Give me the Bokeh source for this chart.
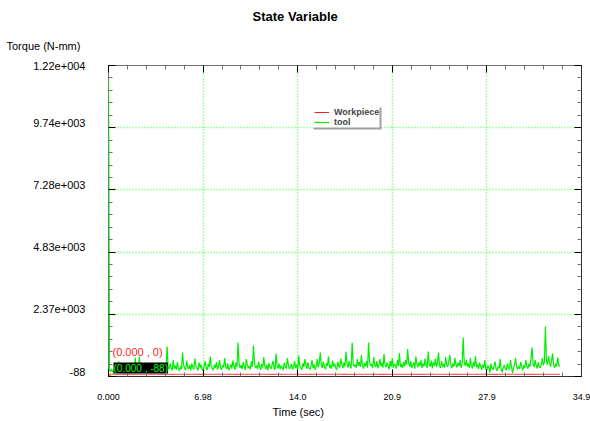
import numpy as np
from bokeh.plotting import figure
from bokeh.models import (Range1d, FixedTicker, LinearAxis, Label, Legend,
                          LegendItem, ColumnDataSource, Title)
from bokeh.embed import file_html
from bokeh.resources import INLINE

# ---------------- data ----------------
t_end = 33.3
tool = [
    11700, 160, 90, 210, 120, 70, 180, 240, 110, 150,
    500, 130, 80, 200, 260, 120, 90, 170, 230, 100,
    150, 280, 110, 190, 80, 140, 650, 210, 120, 170,
    700, 160, 90, 240, 130, 200, 100, 310, 150, 80,
    220, 140, 180, 90, 260, 120, 330, 170, 110, 230,
    150, 90, 280, 200, 130, 380, 240, 1100, 300, 190,
    420, 260, 150, 560, 220, 340, 180, 480, 250, 130,
    310, 200, 860, 370, 240, 160, 540, 290, 200, 360,
    150, 420, 280, 190, 620, 330, 240, 150, 470, 260,
    380, 200, 130, 300, 520, 240, 170, 410, 290, 700,
    330, 220, 160, 380, 250, 480, 190, 300, 560, 240,
    170, 350, 280, 640, 300, 200, 430, 160, 260, 390,
    220, 540, 310, 190, 460, 280, 1250, 420, 250, 360,
    200, 480, 310, 170, 600, 380, 240, 330, 180, 520,
    290, 1140, 450, 260, 340, 210, 500, 280, 170, 400,
    260, 680, 320, 200, 380, 150, 440, 290, 210, 360,
    530, 250, 170, 820, 310, 230, 420, 190, 340, 270,
    160, 460, 300, 220, 640, 350, 200, 290, 410, 180,
    300, 520, 240, 380, 190, 740, 330, 250, 170, 430,
    280, 600, 360, 210, 470, 260, 190, 330, 550, 240,
    390, 180, 310, 600, 270, 420, 860, 380, 250, 500,
    300, 200, 440, 330, 700, 260, 360, 220, 540, 310,
    420, 250, 180, 500, 330, 270, 620, 380, 240, 460,
    300, 900, 410, 260, 520, 340, 230, 1250, 450, 300,
    380, 250, 600, 330, 480, 290, 760, 360, 220, 440,
    310, 520, 260, 1250, 480, 330, 400, 240, 680, 350,
    290, 520, 230, 380, 600, 310, 450, 260, 800, 370,
    280, 460, 340, 190, 520, 300, 620, 260, 410, 350,
    230, 560, 330, 840, 290, 400, 250, 480, 310, 560,
    380, 1000, 430, 300, 520, 250, 360, 470, 220, 700,
    390, 280, 480, 330, 560, 250, 420, 310, 620, 350,
    260, 900, 400, 300, 540, 230, 470, 340, 620, 280,
    450, 860, 330, 250, 520, 300, 410, 260, 680, 370,
    290, 520, 760, 350, 240, 430, 300, 640, 380, 270,
    460, 320, 560, 250, 410, 1450, 480, 330, 560, 300,
    420, 250, 640, 350, 230, 480, 300, 720, 280, 390,
    200, 460, 310, 170, 380, 260, 560, 220, 150, 340,
    270, 60, 420, 230, 180, 320, 500, 210, 140, 300,
    240, 600, 190, 70, 280, 350, 220, 160, 420, 260,
    190, 560, 300, 50, 240, 380, 640, 270, 200, 330,
    210, 480, 290, 160, 360, 250, 560, 330, 220, 420,
    300, 640, 1060, 420, 280, 560, 360, 230, 470, 300,
    250, 400, 640, 350, 480, 1890, 520, 380, 720, 460,
    300, 560, 820, 350, 260, 420, 300, 660, 380, 300,
]
workpiece = [0] * len(tool)
time = np.linspace(0, t_end, len(tool))

x_ticks = [0, 6.98, 13.96, 20.94, 27.92, 34.9]
x_labels = ["0.000", "6.98", "14.0", "20.9", "27.9", "34.9"]
y_ticks = [-88, 2369.6, 4827.2, 7284.8, 9742.4, 12200]
y_labels = ["-88", "2.37e+003", "4.83e+003", "7.28e+003", "9.74e+003", "1.22e+004"]
series_names = ["Workpiece", "tool"]
cursor_red = "(0.000 , 0)"
cursor_box = "(0.000 , -88)"

# ---------------- layout ----------------
W, H = 590, 421
FL, FR, FT, FB = 108, 581, 65, 376
XMIN, XMAX = x_ticks[0], x_ticks[-1]
YMIN, YMAX = y_ticks[0], y_ticks[-1]
LABEL_LIFT_PX = 5


def dx(px):
    return (px - FL) / (FR - FL) * (XMAX - XMIN) + XMIN


def dy(py):
    return (FB - py) / (FB - FT) * (YMAX - YMIN) + YMIN


FONT = "Liberation Sans"
lift = LABEL_LIFT_PX / (FB - FT) * (YMAX - YMIN)

p = figure(width=W, height=H, output_backend="svg", toolbar_location=None,
           x_range=Range1d(XMIN, XMAX), y_range=Range1d(YMIN, YMAX),
           min_border_left=FL, min_border_right=W - FR,
           min_border_top=FT, min_border_bottom=H - FB,
           background_fill_color="white", border_fill_color="white")
p.outline_line_color = "#707070"
p.extra_y_ranges = {"lab": Range1d(YMIN - lift, YMAX - lift)}

p.title.text = "State Variable"
p.title.align = "left"
p.title.offset = 252 - FL
p.title.text_font = FONT
p.title.text_font_size = "13px"
p.title.text_font_style = "bold"
p.title.text_color = "#000000"
p.title.standoff = 2


def minors(ticks):
    out = []
    for a, b in zip(ticks[:-1], ticks[1:]):
        for k in range(1, 5):
            out.append(a + (b - a) * k / 5)
    return out


xt = FixedTicker(ticks=x_ticks, minor_ticks=minors(x_ticks))
yt = FixedTicker(ticks=y_ticks, minor_ticks=minors(y_ticks))


def style_axis(ax, ticker, labels, show, size, standoff):
    ax.ticker = ticker
    ax.axis_line_color = "#303030"
    ax.major_tick_line_color = "#000000"
    ax.minor_tick_line_color = "#707070"
    ax.major_tick_in = 7
    ax.major_tick_out = 0
    ax.minor_tick_in = 4
    ax.minor_tick_out = 0
    ax.major_label_text_font = FONT
    ax.major_label_text_color = "#000000"
    if show:
        ax.major_label_overrides = {v: s for v, s in zip(ticker.ticks, labels)}
        ax.major_label_text_font_size = size
        ax.major_label_standoff = standoff
    else:
        ax.major_label_overrides = {v: "" for v in ticker.ticks}
        ax.major_label_text_font_size = "1px"
        ax.major_label_standoff = 0


style_axis(p.xaxis[0], xt, x_labels, True, "9px", 17)
# left axis: ticks only (its line left off so the t=0 spike shows on the edge)
style_axis(p.yaxis[0], yt, y_labels, False, "1px", 0)
p.yaxis[0].axis_line_color = None

# left tick labels, lifted a few pixels above their ticks
lab_ticks = y_ticks[:-1] + [YMAX - lift]
ylab = LinearAxis(y_range_name="lab")
style_axis(ylab, FixedTicker(ticks=lab_ticks), y_labels, True, "11px", 23)
ylab.axis_line_color = None
ylab.major_tick_line_color = None
ylab.minor_tick_line_color = None
ylab.major_tick_in = 0
ylab.minor_tick_in = 0
p.add_layout(ylab, "left")

top = LinearAxis()
right = LinearAxis()
style_axis(top, xt, x_labels, False, "1px", 0)
style_axis(right, yt, y_labels, False, "1px", 0)
top.axis_line_color = "#707070"
p.add_layout(top, "above")
p.add_layout(right, "right")

p.add_layout(Title(text="Torque (N-mm)", align="left", offset=6 - FL,
                   text_font=FONT, text_font_size="11px", text_color="#000000",
                   text_font_style="normal", standoff=27), "above")
p.add_layout(Title(text="Time (sec)", align="left", offset=272 - FL,
                   text_font=FONT, text_font_size="11px", text_color="#000000",
                   text_font_style="normal", standoff=2), "below")

for g in (p.xgrid[0], p.ygrid[0]):
    g.grid_line_color = "#55ff55"
    g.grid_line_dash = "1 2"
    g.grid_line_width = 1.5
p.xgrid[0].ticker = xt
p.ygrid[0].ticker = yt

src = ColumnDataSource(dict(t=time, tool=tool, wp=workpiece))
r_tool = p.line("t", "tool", source=src, line_color="#00ee00", line_width=1.2)
r_wp = p.line("t", "wp", source=src, line_color="#ff2020", line_width=1)

# cursor point marker
p.scatter([XMIN], [YMIN], marker="square", size=4, color="#ff8000")

# legend shadow + box
p.quad(left=[dx(313)], right=[dx(381)], top=[dy(107)], bottom=[dy(129)],
       fill_color="#a0a0a0", line_color=None)
p.quad(left=[dx(311)], right=[dx(379)], top=[dy(105)], bottom=[dy(127)],
       fill_color="white", line_color=None)

legend = Legend(items=[LegendItem(label=series_names[0], renderers=[r_wp]),
                       LegendItem(label=series_names[1], renderers=[r_tool])],
                location=(314 - FL, FB - 127),
                background_fill_alpha=0, border_line_color=None,
                padding=4, margin=0, spacing=0,
                glyph_width=15, glyph_height=8, label_height=8,
                label_standoff=5, label_text_font=FONT,
                label_text_font_style="bold", label_text_font_size="9px",
                label_text_line_height=1.0)
p.add_layout(legend)

# cursor read-outs
p.add_layout(Label(x=dx(112), y=dy(351), text=cursor_red,
                   text_align="left", text_baseline="middle",
                   text_font=FONT, text_font_size="11px", text_color="#ff2020"))
p.add_layout(Label(x=dx(113), y=dy(367.5), text=cursor_box,
                   text_align="left", text_baseline="middle",
                   text_font=FONT, text_font_size="10px", text_color="#00ff00",
                   background_fill_color="black"))

open("out.html", "w").write(file_html(p, INLINE))
